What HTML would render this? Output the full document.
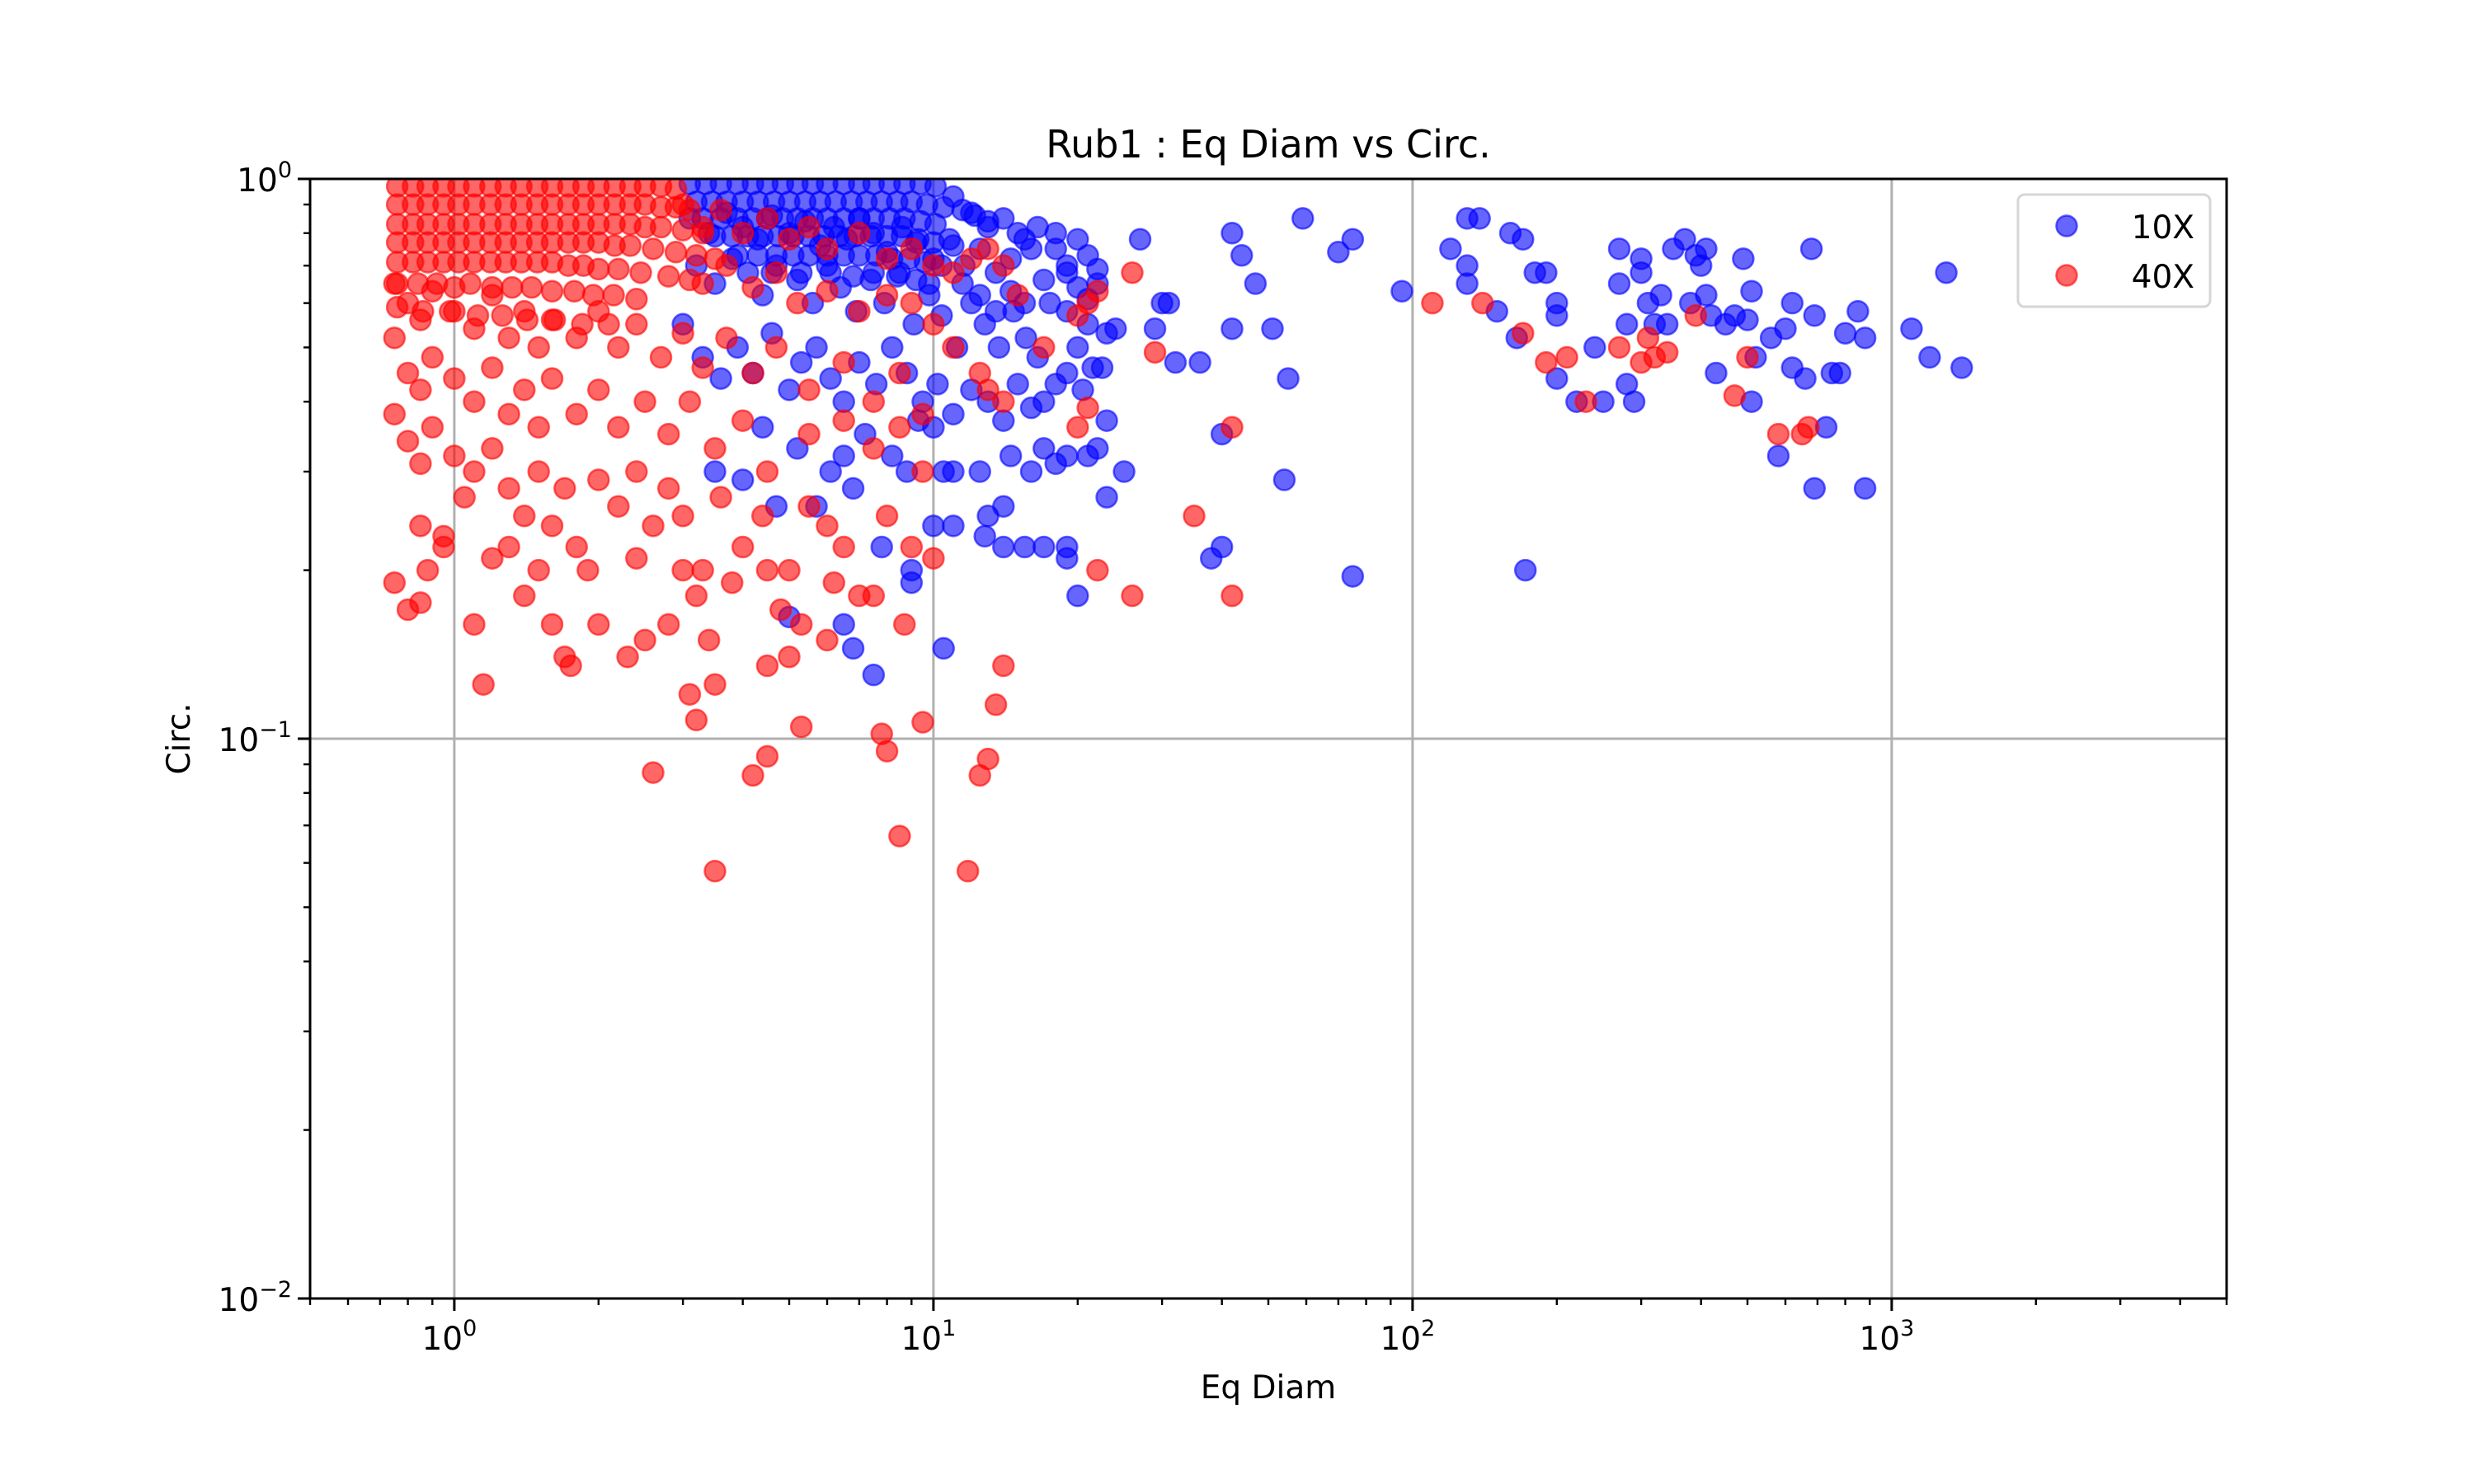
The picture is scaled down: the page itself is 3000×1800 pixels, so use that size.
<!DOCTYPE html>
<html><head><meta charset="utf-8"><style>
html,body{margin:0;padding:0;background:#fff}
svg{display:block;font-family:"DejaVu Sans","Liberation Sans",sans-serif}
</style></head><body>
<svg id="chart" width="3000" height="1800" viewBox="0 0 3000 1800" xmlns="http://www.w3.org/2000/svg">
<rect width="3000" height="1800" fill="#fff"/>
<text x="1538" y="191" font-size="46" text-anchor="middle">Rub1 : Eq Diam vs Circ.</text>
<text x="1538" y="1696" font-size="39" text-anchor="middle">Eq Diam</text>
<text x="230" y="896" font-size="39" text-anchor="middle" transform="rotate(-90 230 896)">Circ.</text>
<g id="grid"></g>
<g id="marks"></g>
<g id="axes"></g>
<g id="legend">
<rect x="2447" y="236" width="233" height="136" rx="8" fill="#fff" fill-opacity="0.8" stroke="#d6d6d6" stroke-width="3"/>
<circle cx="2506" cy="274" r="12.5" fill="#0000ff" fill-opacity="0.6" stroke="#0000ff" stroke-opacity="0.6" stroke-width="2.5"/>
<text x="2661" y="289" font-size="39" text-anchor="end">10X</text>
<circle cx="2506" cy="334" r="12.5" fill="#ff0000" fill-opacity="0.6" stroke="#ff0000" stroke-opacity="0.6" stroke-width="2.5"/>
<text x="2661" y="349" font-size="39" text-anchor="end">40X</text>
</g>
</svg>
<script>
const xDomain=[0.5,5000];
const yDomain=[0.01,1];
const xMajorTicks=[1,10,100,1000];
const xTickExps=["0","1","2","3"];
const yMajorTicks=[0.01,0.1,1];
const yTickLabels=[["10","−2"],["10","−1"],["10","0"]];
const seriesNames=["10X","40X"];
const blueData=[
[130,0.85],[138,0.85],[59,0.85],[75,0.78],[70,0.74],[47,0.65],[44,0.73],[42,0.8],[95,0.63],[120,0.75],[130,0.7],[130,0.65],[150,0.58],[160,0.8],[170,0.78],[165,0.52],[180,0.68],[190,0.68],[200,0.6],[200,0.57],[200,0.44],[220,0.4],[240,0.5],[250,0.4],[270,0.75],[270,0.65],[280,0.55],[280,0.43],[290,0.4],[300,0.72],[300,0.68],[310,0.6],[320,0.55],[330,0.62],[340,0.55],[350,0.75],[370,0.78],[380,0.6],[390,0.73],[400,0.7],[410,0.75],[410,0.62],[420,0.57],[430,0.45],[450,0.55],[470,0.57],[490,0.72],[500,0.56],[510,0.63],[510,0.4],[520,0.48],[560,0.52],[580,0.32],[600,0.54],[620,0.6],[620,0.46],[660,0.44],[680,0.75],[690,0.57],[690,0.28],[730,0.36],[750,0.45],[780,0.45],[800,0.53],[850,0.58],[880,0.52],[880,0.28],[1100,0.54],[1200,0.48],[1300,0.68],[1400,0.46],[172,0.2],[75,0.195],[38,0.21],[40,0.22],[40,0.35],[54,0.29],[55,0.44],[42,0.54],[51,0.54],[36,0.47],[32,0.47],[30,0.6],[31,0.6],[29,0.54],[27,0.78],[25,0.3],[23,0.27],[23,0.37],[22,0.33],[20,0.18],[19,0.21],[10.5,0.145],[7.5,0.13],[6.8,0.145],[6.5,0.16],[5,0.165],[10.5,0.3],[10,0.24],[11,0.24],
[3.1,0.98],[3.35,0.98],[3.6,0.98],[3.9,0.98],[4.2,0.98],[4.5,0.98],[4.85,0.98],[5.2,0.98],[5.6,0.98],[6,0.98],[6.5,0.98],[7,0.98],[7.5,0.98],[8.1,0.98],[8.7,0.98],[9.4,0.98],[10.1,0.97],
[3.2,0.91],[3.45,0.91],[3.7,0.91],[4,0.91],[4.3,0.91],[4.65,0.91],[5,0.91],[5.4,0.91],[5.8,0.91],[6.25,0.91],[6.75,0.91],[7.25,0.91],[7.8,0.91],[8.4,0.91],[9,0.91],[9.7,0.9],[10.5,0.89],[11.5,0.88],
[3.3,0.85],[3.6,0.85],[3.9,0.85],[4.2,0.85],[4.5,0.85],[4.85,0.85],[5.2,0.85],[5.6,0.85],[6,0.85],[6.5,0.85],[7,0.85],[7.5,0.85],[8.1,0.85],[8.7,0.85],[9.4,0.84],[10.1,0.83],[12.2,0.86],[13,0.84],
[3.5,0.79],[3.8,0.79],[4.1,0.79],[4.4,0.79],[4.75,0.79],[5.1,0.79],[5.5,0.79],[5.9,0.79],[6.35,0.79],[6.85,0.79],[7.4,0.79],[8,0.79],[8.6,0.79],[9.3,0.78],[10,0.77],[11,0.76],
[3.9,0.73],[4.3,0.73],[4.7,0.73],[5.1,0.73],[5.5,0.73],[6,0.73],[6.5,0.73],[7,0.73],[7.6,0.73],[8.2,0.72],[8.9,0.72],[9.6,0.71],[10.4,0.7],
[4.6,0.68],[5.3,0.68],[6.1,0.68],[6.8,0.67],[7.5,0.68],[8.4,0.67],[9.2,0.66],[9.8,0.65],
[3.1,0.85],[3.4,0.8],[3.7,0.87],[4,0.82],[4.3,0.78],[4.6,0.86],[5,0.8],[5.4,0.84],[5.8,0.76],[6.2,0.82],[6.6,0.78],[7,0.85],[7.5,0.8],[8,0.74],[8.6,0.82],[9.2,0.77],[10,0.72],[10.8,0.78],[11.6,0.7],[12.5,0.75],[13.5,0.68],[14.5,0.72],[15.5,0.78],[16.5,0.82],[17,0.66],[18,0.75],[19,0.7],[20,0.78],[21,0.73],[22,0.69],[17.5,0.6],[19,0.58],[20,0.5],[21,0.55],[22.5,0.46],[23,0.53],[24,0.54],
[3.2,0.7],[3.5,0.65],[3.8,0.72],[4.1,0.68],[4.4,0.62],[4.7,0.7],[5.2,0.66],[5.6,0.6],[6,0.7],[6.4,0.64],[6.9,0.58],[7.4,0.66],[7.9,0.6],[8.5,0.68],[9.1,0.55],[9.8,0.62],[10.4,0.57],[11.2,0.5],[12,0.6],[12.8,0.55],[13.7,0.5],[14.7,0.58],[15.6,0.52],[16.5,0.48],[18,0.43],[19,0.45],[20.5,0.42],[21.5,0.46],
[3,0.55],[3.3,0.48],[3.6,0.44],[3.9,0.5],[4.2,0.45],[4.6,0.53],[5,0.42],[5.3,0.47],[5.7,0.5],[6.1,0.44],[6.5,0.4],[7,0.47],[7.6,0.43],[8.2,0.5],[8.8,0.45],[9.5,0.4],[10.2,0.43],[11,0.38],[12,0.42],[13,0.4],[14,0.37],[15,0.43],[16,0.39],[17,0.4],
[3.5,0.3],[4,0.29],[4.4,0.36],[4.7,0.26],[5.2,0.33],[5.7,0.26],[6.1,0.3],[6.5,0.32],[6.8,0.28],[7.2,0.35],[7.8,0.22],[8.2,0.32],[8.8,0.3],[9.3,0.37],[10,0.36],[11,0.3],[12.5,0.3],[13,0.25],[14,0.26],[14.5,0.32],[16,0.3],[17,0.33],[18,0.31],[19,0.32],[21,0.32],[12.8,0.23],[14,0.22],[15.5,0.22],[17,0.22],[19,0.22],[9,0.2],[9,0.19],
[11,0.93],[12,0.87],[13,0.82],[14,0.85],[15,0.8],[16,0.75],[18,0.8],[19,0.68],[20,0.64],[21,0.61],[22,0.65],[11.5,0.65],[12.5,0.62],[13.5,0.58],[14.5,0.63],[15.5,0.6]
];
const redData=[
[110,0.6],[140,0.6],[170,0.53],[190,0.47],[210,0.48],[230,0.4],[270,0.5],[300,0.47],[310,0.52],[320,0.48],[340,0.49],[390,0.57],[470,0.41],[500,0.48],[580,0.35],[650,0.35],[670,0.36],[42,0.36],[42,0.18],[35,0.25],[29,0.49],[26,0.18],[26,0.68],[22,0.2],[21,0.39],[20,0.36],[14,0.135],[13.5,0.115],[13,0.092],[12.5,0.086],[11.8,0.058],[9.5,0.107],[8.5,0.067],[8,0.095],[7.8,0.102],[4.5,0.093],[4.2,0.086],[3.5,0.058],[2.6,0.087],[5.3,0.105],[3.2,0.108],[3.1,0.12],[3.5,0.125],[4.5,0.135],[1.15,0.125],[1.1,0.16],[0.75,0.19],[0.8,0.17],[0.85,0.175],[0.88,0.2],[0.95,0.22],
[0.76,0.97],[0.82,0.97],[0.88,0.97],[0.95,0.97],[1.02,0.97],[1.1,0.97],[1.19,0.97],[1.28,0.97],[1.38,0.97],[1.49,0.97],[1.6,0.97],[1.73,0.97],[1.86,0.97],[2,0.97],[2.16,0.97],[2.33,0.97],[2.5,0.97],[2.7,0.97],[2.9,0.96],
[0.76,0.9],[0.82,0.9],[0.88,0.9],[0.95,0.9],[1.02,0.9],[1.1,0.9],[1.19,0.9],[1.28,0.9],[1.38,0.9],[1.49,0.9],[1.6,0.9],[1.73,0.9],[1.86,0.9],[2,0.9],[2.16,0.9],[2.33,0.9],[2.5,0.9],[2.7,0.89],[2.9,0.89],[3.1,0.88],
[0.76,0.83],[0.82,0.83],[0.88,0.83],[0.95,0.83],[1.02,0.83],[1.1,0.83],[1.19,0.83],[1.28,0.83],[1.38,0.83],[1.49,0.83],[1.6,0.83],[1.73,0.83],[1.86,0.83],[2,0.83],[2.16,0.83],[2.33,0.83],[2.5,0.82],[2.7,0.82],[3,0.81],[3.3,0.8],
[0.76,0.77],[0.82,0.77],[0.88,0.77],[0.95,0.77],[1.02,0.77],[1.1,0.77],[1.19,0.77],[1.28,0.77],[1.38,0.77],[1.49,0.77],[1.6,0.77],[1.73,0.77],[1.86,0.77],[2,0.77],[2.16,0.76],[2.33,0.76],[2.6,0.75],[2.9,0.74],[3.2,0.73],[3.5,0.72],
[0.76,0.71],[0.82,0.71],[0.88,0.71],[0.95,0.71],[1.02,0.71],[1.1,0.71],[1.19,0.71],[1.28,0.71],[1.38,0.71],[1.49,0.71],[1.6,0.71],[1.73,0.7],[1.86,0.7],[2,0.69],[2.2,0.69],[2.45,0.68],[2.8,0.67],[3.1,0.66],
[0.76,0.65],[0.84,0.65],[0.92,0.65],[1.0,0.64],[1.08,0.65],[1.2,0.64],[1.32,0.64],[1.45,0.64],[1.6,0.63],[1.78,0.63],[1.95,0.62],[2.15,0.62],[2.4,0.61],
[0.76,0.59],[0.86,0.58],[0.98,0.58],[1.12,0.57],[1.26,0.57],[1.42,0.56],[1.62,0.56],[1.85,0.55],[2.1,0.55],
[3,0.9],[3.3,0.82],[3.6,0.88],[4,0.8],[4.5,0.85],[5,0.78],[5.5,0.82],[6,0.75],[7,0.8],[8,0.72],[9,0.75],[10,0.7],[11,0.68],[12,0.72],[13,0.75],[14,0.7],[15,0.62],
[3.3,0.65],[3.7,0.7],[4.2,0.64],[4.7,0.68],[5.2,0.6],[6,0.63],[7,0.58],[8,0.62],[9,0.6],[10,0.55],[11,0.5],[12.5,0.45],[13,0.42],[14,0.4],[17,0.5],[20,0.57],[21,0.6],[22,0.63],
[0.75,0.65],[0.8,0.6],[0.85,0.56],[0.9,0.63],[1,0.58],[1.1,0.54],[1.2,0.62],[1.3,0.52],[1.4,0.58],[1.5,0.5],[1.6,0.56],[1.8,0.52],[2,0.58],[2.2,0.5],[2.4,0.55],[2.7,0.48],[3,0.53],[3.3,0.46],[3.7,0.52],[4.2,0.45],[4.7,0.5],[5.5,0.42],[6.5,0.47],[7.5,0.4],[8.5,0.45],[9.5,0.38],
[0.75,0.52],[0.8,0.45],[0.85,0.42],[0.9,0.48],[1,0.44],[1.1,0.4],[1.2,0.46],[1.3,0.38],[1.4,0.42],[1.5,0.36],[1.6,0.44],[1.8,0.38],[2,0.42],[2.2,0.36],[2.5,0.4],[2.8,0.35],[3.1,0.4],[3.5,0.33],[4,0.37],[4.5,0.3],[5.5,0.35],[6.5,0.37],[7.5,0.33],[8.5,0.36],[9.5,0.3],
[0.75,0.38],[0.8,0.34],[0.85,0.31],[0.9,0.36],[1,0.32],[1.05,0.27],[1.1,0.3],[1.2,0.33],[1.3,0.28],[1.4,0.25],[1.5,0.3],[1.6,0.24],[1.7,0.28],[1.8,0.22],[2,0.29],[2.2,0.26],[2.4,0.3],[2.6,0.24],[2.8,0.28],[3,0.25],[3.3,0.2],[3.6,0.27],[4,0.22],[4.4,0.25],[5,0.2],[5.5,0.26],[6,0.24],[6.5,0.22],[7,0.18],[7.5,0.18],[8,0.25],[8.7,0.16],[9,0.22],[10,0.21],
[0.85,0.24],[0.95,0.23],[1.2,0.21],[1.3,0.22],[1.4,0.18],[1.5,0.2],[1.6,0.16],[1.7,0.14],[1.75,0.135],[1.9,0.2],[2,0.16],[2.3,0.14],[2.4,0.21],[2.5,0.15],[2.8,0.16],[3,0.2],[3.2,0.18],[3.4,0.15],[3.8,0.19],[4.5,0.2],[4.8,0.17],[5,0.14],[5.3,0.16],[6,0.15],[6.2,0.19]
];
const NS="http://www.w3.org/2000/svg";
const L=376,R=2700,T=217,B=1575;
function xs(v){return L+(Math.log10(v)-Math.log10(xDomain[0]))/(Math.log10(xDomain[1])-Math.log10(xDomain[0]))*(R-L);}
function ys(v){return B-(Math.log10(v)-Math.log10(yDomain[0]))/(Math.log10(yDomain[1])-Math.log10(yDomain[0]))*(B-T);}
function mk(tag,attrs,parent){const e=document.createElementNS(NS,tag);for(const k in attrs)e.setAttribute(k,attrs[k]);parent.appendChild(e);return e;}
const grid=document.getElementById('grid'),marks=document.getElementById('marks'),axes=document.getElementById('axes');
xMajorTicks.forEach((t,i)=>{const x=xs(t);
 const g=mk('line',{x1:x,x2:x,y1:T,y2:B,stroke:'#b0b0b0','stroke-width':3},grid);
 
 
 const tk=mk('line',{x1:x,x2:x,y1:B,y2:B+15,stroke:'#000','stroke-width':3},axes);
 
 
 const tx=mk('text',{x:x-6,y:B+62,'font-size':39,'text-anchor':'middle'},axes);
 
 
 tx.innerHTML='10<tspan font-size="27" dy="-17">'+xTickExps[i]+'</tspan>';
});
for(let d=-1;d<=3;d++){for(let m=2;m<=9;m++){const v=m*Math.pow(10,d);if(v<xDomain[0]||v>xDomain[1])continue;const x=xs(v);
 const t=mk('line',{x1:x,x2:x,y1:B,y2:B+8,stroke:'#000','stroke-width':2.4},axes);
 
 }}
yMajorTicks.forEach((t,i)=>{const y=ys(t);
 if(i>0&&i<yMajorTicks.length-1){const g=mk('line',{x1:L,x2:R,y1:y,y2:y,stroke:'#b0b0b0','stroke-width':3},grid);
 
 }
 const tk=mk('line',{x1:L-15,x2:L,y1:y,y2:y,stroke:'#000','stroke-width':3},axes);
 
 
 const tx=mk('text',{x:L-22,y:y+15,'font-size':39,'text-anchor':'end'},axes);
 
 
 tx.innerHTML=yTickLabels[i][0]+'<tspan font-size="27" dy="-17">'+yTickLabels[i][1]+'</tspan>';
});
for(let d=-2;d<=-1;d++){for(let m=2;m<=9;m++){const y=ys(m*Math.pow(10,d));
 const t=mk('line',{x1:L-8,x2:L,y1:y,y2:y,stroke:'#000','stroke-width':2.4},axes);
 
 }}
function drawSeries(data,color,name){data.forEach(p=>{const y=ys(p[1]);
 const c=mk('circle',{cx:xs(p[0]),cy:y,r:12.5,fill:color,'fill-opacity':0.6,stroke:color,'stroke-opacity':0.6,'stroke-width':2.5},marks);
 
 });}
drawSeries(blueData,'#0000ff','point-10x');
drawSeries(redData,'#ff0000','point-40x');
const clip=mk('clipPath',{id:'cp'},document.getElementById('chart'));
mk('rect',{x:L,y:T,width:R-L,height:B-T},clip);
marks.setAttribute('clip-path','url(#cp)');
const frame=mk('rect',{x:L,y:T,width:R-L,height:B-T,fill:'none',stroke:'#000','stroke-width':3},axes);


</script>
</body></html>
